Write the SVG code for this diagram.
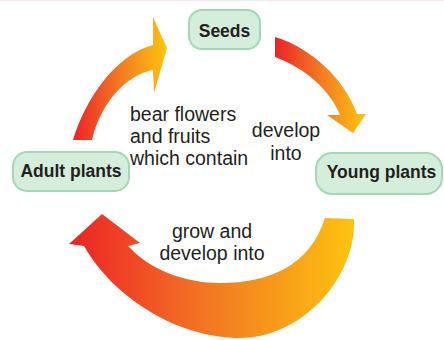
<svg xmlns="http://www.w3.org/2000/svg" width="444" height="340" viewBox="0 0 444 340">
  <defs>
    <linearGradient id="gradLeft" gradientUnits="userSpaceOnUse" x1="73" y1="0" x2="167" y2="0">
      <stop offset="0" stop-color="#ec2227"/>
      <stop offset="0.5" stop-color="#f37a22"/>
      <stop offset="1" stop-color="#fdc40f"/>
    </linearGradient>
    <linearGradient id="gradRight" gradientUnits="userSpaceOnUse" x1="275" y1="0" x2="366" y2="0">
      <stop offset="0" stop-color="#ec2227"/>
      <stop offset="0.5" stop-color="#f37a22"/>
      <stop offset="1" stop-color="#fdc40f"/>
    </linearGradient>
    <linearGradient id="gradBottom" gradientUnits="userSpaceOnUse" x1="69" y1="0" x2="356" y2="0">
      <stop offset="0" stop-color="#ec2227"/>
      <stop offset="0.5" stop-color="#f37a22"/>
      <stop offset="1" stop-color="#fdc40f"/>
    </linearGradient>
  </defs>
  <style>
    .node rect { fill: #d5eedc; stroke: #a3d8b4; stroke-width: 2; }
    .node text { font-family: "Liberation Sans", Arial, sans-serif; font-weight: bold; font-size: 17.5px; fill: #231f20; text-anchor: middle; }
    .label { font-family: "Liberation Sans", Arial, sans-serif; font-size: 19.5px; fill: #231f20; }
    .mid { text-anchor: middle; }
  </style>

  <rect x="0" y="0" width="444" height="340" fill="#ffffff"/>
  <line x1="0" y1="0.5" x2="444" y2="0.5" stroke="#fbe3f0" stroke-width="1"/>

  <g id="connectors">
    <!-- Adult plants -> Seeds -->
    <path id="arrow-adult-seeds" fill="url(#gradLeft)"
          d="M 73,140 C 85,100 115,55 153,45 L 153,17 L 167,48 L 154,93 L 153,70 C 125,75 100,105 92,140 Z"/>
    <!-- Seeds -> Young plants -->
    <path id="arrow-seeds-young" fill="url(#gradRight)"
          d="M 275,37 C 312,48 345,80 357,114 L 366,114 L 353,133 L 327,115 L 340,115 C 330,90 305,68 275,57 Z"/>
    <!-- Young plants -> Adult plants -->
    <path id="arrow-young-adult" fill="url(#gradBottom)"
          d="M 325,218 L 354,219 C 356,280 300,338 240,338 C 180,338 115,300 84,246 L 69,244 L 102,214 L 140,243 L 128,246 C 150,270 185,283 220,283 C 270,283 310,265 325,218 Z"/>

    <text class="label" x="130" y="121">bear flowers</text>
    <text class="label" x="130" y="143">and fruits</text>
    <text class="label" x="130" y="165">which contain</text>

    <text class="label mid" x="286" y="137">develop</text>
    <text class="label mid" x="286" y="160">into</text>

    <text class="label mid" x="212" y="238">grow and</text>
    <text class="label mid" x="212" y="260">develop into</text>
  </g>

  <g id="node-seeds" class="node">
    <rect x="189" y="10" width="71" height="39" rx="13"/>
    <text x="224.5" y="37">Seeds</text>
  </g>

  <g id="node-young" class="node">
    <rect x="316" y="153" width="126" height="41" rx="16"/>
    <text x="381.5" y="178">Young plants</text>
  </g>

  <g id="node-adult" class="node">
    <rect x="13" y="152" width="116" height="39" rx="14"/>
    <text x="71" y="177">Adult plants</text>
  </g>
</svg>
